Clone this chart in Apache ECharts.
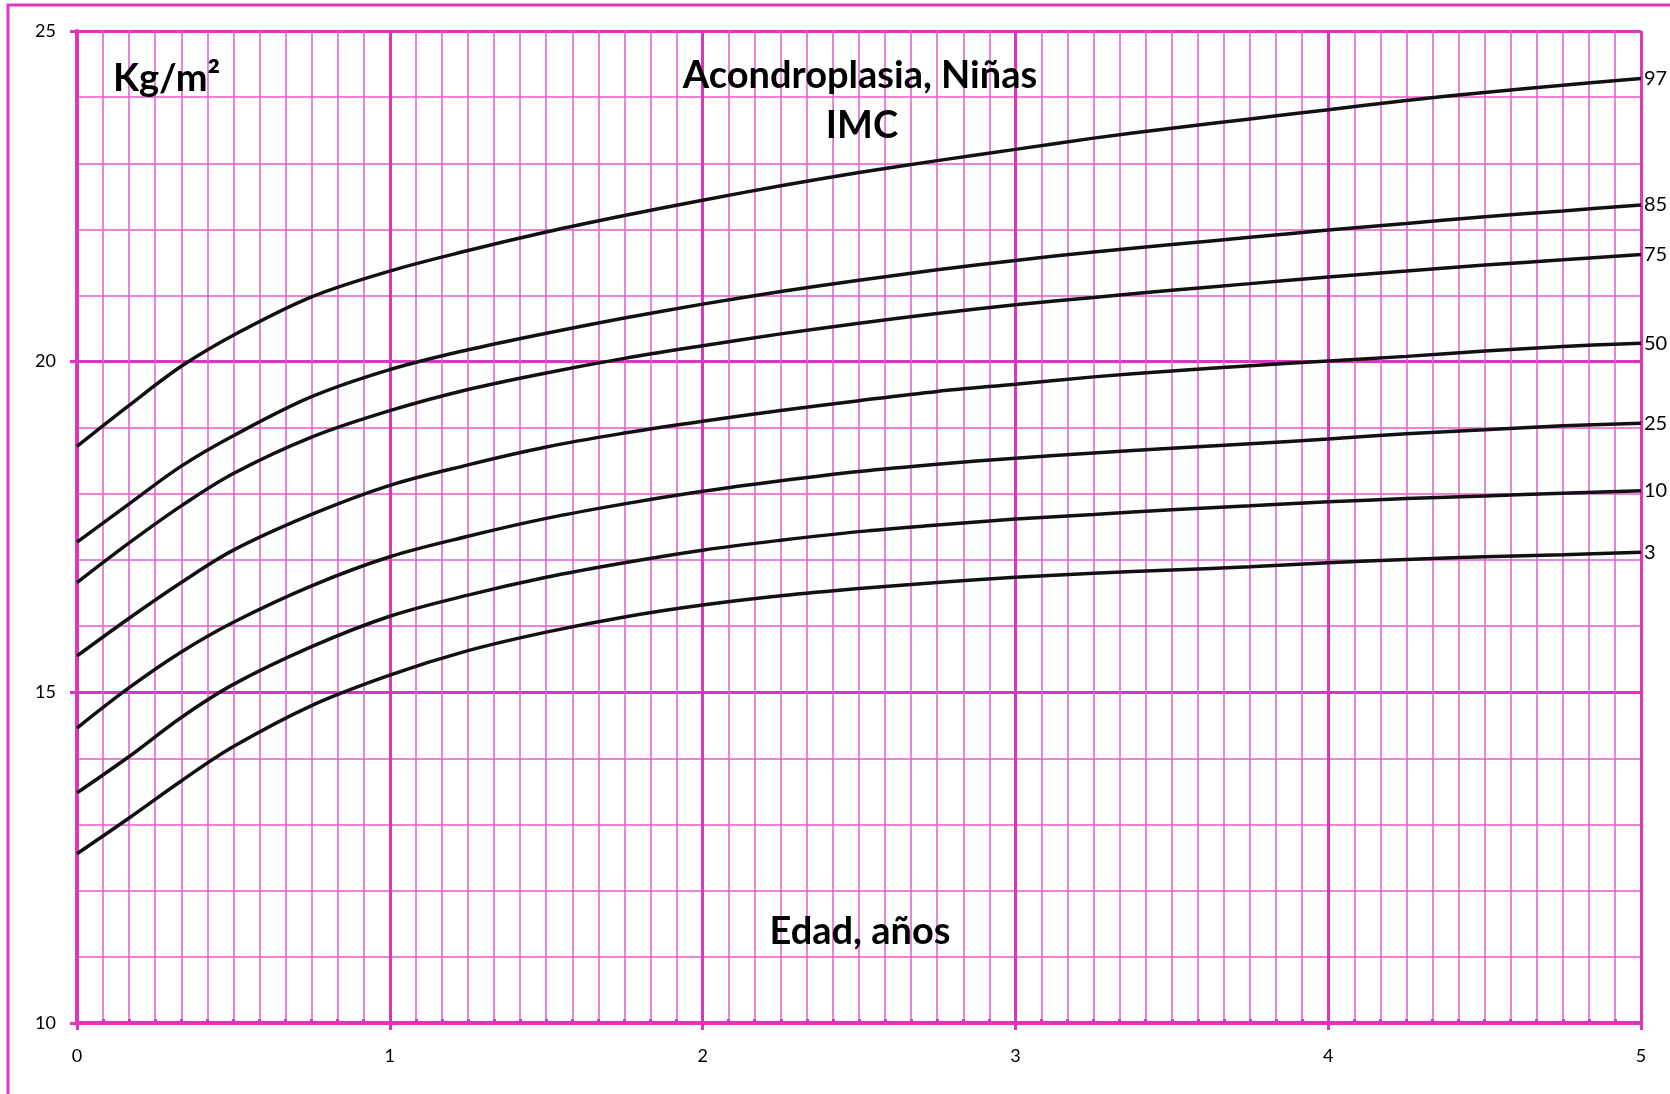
<!DOCTYPE html>
<html>
<head>
<meta charset="utf-8">
<script src="https://cdn.jsdelivr.net/npm/echarts@6/dist/echarts.min.js"></script>
<style>
html,body{margin:0;padding:0;background:#fff;}
#chart{width:1670px;height:1094px;}
</style>
</head>
<body>
<div id="chart"></div>
<script>
// Age in months
const ageMonths = [0, 2, 4, 6, 9, 12, 15, 18, 21, 24, 27, 30, 33, 36, 39, 42, 45, 48, 51, 54, 57, 60];
// BMI percentiles (kg/m2)
const p97 = [18.72, 19.34, 19.93, 20.40, 20.98, 21.37, 21.68, 21.96, 22.21, 22.44, 22.66, 22.86, 23.04, 23.21, 23.38, 23.53, 23.67, 23.81, 23.95, 24.07, 24.18, 24.28];
const p85 = [17.27, 17.85, 18.42, 18.88, 19.47, 19.88, 20.18, 20.43, 20.66, 20.87, 21.06, 21.23, 21.39, 21.53, 21.66, 21.77, 21.88, 21.99, 22.09, 22.19, 22.28, 22.37];
const p75 = [16.66, 17.26, 17.82, 18.31, 18.86, 19.26, 19.58, 19.83, 20.05, 20.24, 20.42, 20.58, 20.73, 20.86, 20.97, 21.08, 21.18, 21.28, 21.37, 21.46, 21.54, 21.62];
const p50 = [15.55, 16.12, 16.66, 17.15, 17.69, 18.13, 18.44, 18.71, 18.92, 19.10, 19.26, 19.41, 19.55, 19.66, 19.77, 19.86, 19.94, 20.01, 20.08, 20.16, 20.23, 20.28];
const p25 = [14.46, 15.07, 15.61, 16.06, 16.61, 17.05, 17.36, 17.63, 17.85, 18.04, 18.20, 18.34, 18.45, 18.54, 18.62, 18.69, 18.76, 18.83, 18.91, 18.97, 19.03, 19.07];
const p10 = [13.48, 14.03, 14.62, 15.12, 15.69, 16.15, 16.47, 16.74, 16.96, 17.15, 17.30, 17.43, 17.53, 17.62, 17.69, 17.76, 17.82, 17.88, 17.93, 17.97, 18.01, 18.05];
const p3  = [12.56, 13.10, 13.66, 14.18, 14.80, 15.26, 15.63, 15.91, 16.14, 16.32, 16.46, 16.57, 16.66, 16.74, 16.80, 16.85, 16.90, 16.96, 17.01, 17.05, 17.08, 17.12];
const seriesNames = ['97', '85', '75', '50', '25', '10', '3'];
const seriesValues = [p97, p85, p75, p50, p25, p10, p3];

const titleLine1 = 'Acondroplasia, Niñas';
const titleLine2 = 'IMC';
const yUnit = 'Kg/m²';
const xName = 'Edad, años';

const MAG = '#de34be';
const MAG_MINOR = '#e45ccd';
const FONT = 'Lato, "Open Sans", sans-serif';

const chart = echarts.init(document.getElementById('chart'), null, {renderer: 'canvas'});

const series = seriesNames.map((name, i) => ({
  name: name,
  type: 'line',
  xAxisIndex: 0,
  yAxisIndex: 0,
  smooth: 0.35,
  symbol: 'none',
  silent: true,
  lineStyle: {color: '#111111', width: 3.5},
  data: ageMonths.map((m, j) => [m / 12, seriesValues[i][j]]),
  endLabel: {
    show: true,
    formatter: '{a}',
    color: '#000',
    fontFamily: FONT,
    fontSize: 20,
    distance: 3
  },
  z: 5
}));

const option = {
  backgroundColor: '#ffffff',
  animation: false,
  grid: {left: 77, top: 31, right: 29, bottom: 71, containLabel: false},
  xAxis: [{
    type: 'value',
    min: 0, max: 5, interval: 1,
    position: 'bottom',
    axisLine: {show: true, onZero: false, lineStyle: {color: MAG, width: 4}},
    axisTick: {show: true, length: 7, lineStyle: {color: MAG, width: 3}},
    minorTick: {show: false, splitNumber: 12},
    axisLabel: {color: '#000', fontFamily: FONT, fontSize: 18, margin: 24},
    splitLine: {show: true, lineStyle: {color: MAG, width: 3}},
    minorSplitLine: {show: true, lineStyle: {color: MAG_MINOR, width: 1.5}}
  }, {
    type: 'value',
    min: 0, max: 60, interval: 1,
    position: 'bottom',
    axisLine: {show: false},
    axisTick: {show: true, inside: true, length: 4, lineStyle: {color: MAG, width: 3}},
    axisLabel: {show: false},
    splitLine: {show: false}
  }],
  yAxis: [{
    type: 'value',
    min: 10, max: 25, interval: 5,
    axisLine: {show: true, onZero: false, lineStyle: {color: MAG, width: 4}},
    axisTick: {show: true, length: 7, lineStyle: {color: MAG, width: 3}},
    minorTick: {show: false, splitNumber: 5},
    axisLabel: {color: '#000', fontFamily: FONT, fontSize: 18, margin: 21},
    splitLine: {show: true, lineStyle: {color: MAG, width: 3}},
    minorSplitLine: {show: true, lineStyle: {color: MAG_MINOR, width: 1.5}}
  }],
  graphic: [
    {type: 'rect', silent: true, z: 0,
     shape: {x: 8, y: 5, width: 1720, height: 1200},
     style: {fill: 'none', stroke: MAG, lineWidth: 3}},
    {type: 'text', z: 10, style: {text: titleLine1, x: 860, y: 76, textAlign: 'center', textVerticalAlign: 'middle', font: 'bold 38px ' + FONT, fill: '#000'}},
    {type: 'text', z: 10, style: {text: titleLine2, x: 862, y: 126, textAlign: 'center', textVerticalAlign: 'middle', font: 'bold 38px ' + FONT, fill: '#000'}},
    {type: 'text', z: 10, style: {text: yUnit, x: 113, y: 79, textAlign: 'left', textVerticalAlign: 'middle', font: 'bold 38px ' + FONT, fill: '#000'}},
    {type: 'text', z: 10, style: {text: xName, x: 860, y: 932, textAlign: 'center', textVerticalAlign: 'middle', font: 'bold 38px ' + FONT, fill: '#000'}}
  ],
  series: series
};
chart.setOption(option);
</script>
</body>
</html>
